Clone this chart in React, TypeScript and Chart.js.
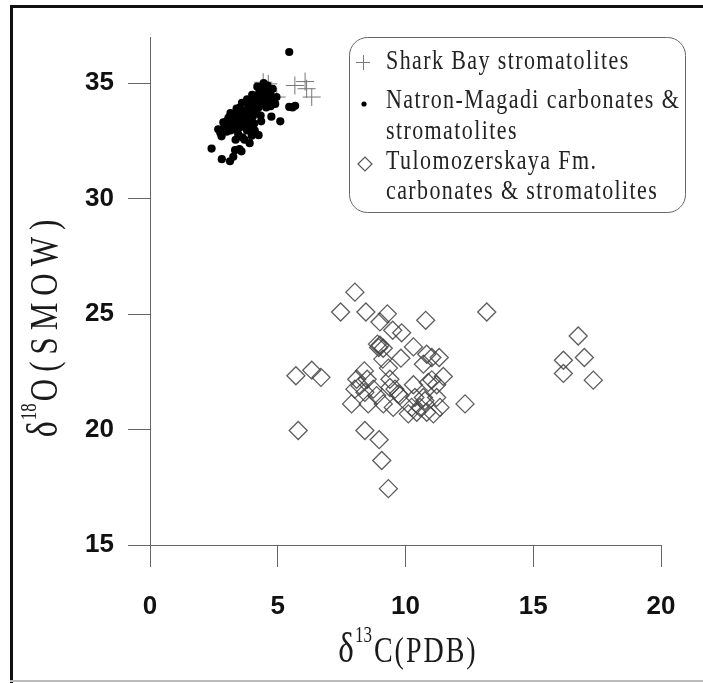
import React, { useEffect, useRef } from "react";
import { Chart, registerables } from "chart.js";

Chart.register(...registerables);

const xTickValues = [0, 5, 10, 15, 20];
const yTickValues = [15, 20, 25, 30, 35];

const sharkBay: [number, number][] = [
  [4.43, 35.04], [4.63, 34.97], [4.96, 34.4], [5.67, 34.9], [6.07, 35.07], [6.13, 34.76], [6.33, 34.4],
];

const natronMagadi: [number, number][] = [
  [5.45, 36.35], [5.45, 33.97], [5.58, 33.95], [5.68, 34.02], [5.1, 33.35], [4.75, 33.55], [4.25, 32.75],
  [2.41, 32.17], [2.81, 31.71], [3.26, 31.81], [3.33, 32.1], [3.5, 32.14], [3.13, 31.62], [3.58, 32.05], [3.9, 32.4],
  [2.67, 33.0], [2.75, 32.85], [2.87, 33.3], [2.9, 33.05], [3.0, 32.9], [3.07, 33.5], [3.1, 33.2], [3.15, 32.95],
  [3.2, 33.1], [3.26, 33.35], [3.3, 33.0], [3.35, 33.6], [3.39, 33.9], [3.42, 33.2], [3.45, 32.8], [3.5, 33.45],
  [3.52, 33.95], [3.55, 33.1], [3.6, 33.3], [3.62, 32.65], [3.65, 33.6], [3.7, 33.2], [3.75, 33.8], [3.78, 33.5],
  [3.8, 32.95], [3.85, 34.0], [3.9, 33.7], [3.92, 33.3], [3.95, 34.1], [4.0, 33.9], [4.02, 33.55], [4.05, 34.3],
  [4.08, 33.25], [4.1, 34.0], [4.15, 34.45], [4.17, 33.7], [4.2, 34.2], [4.25, 33.95], [4.28, 34.6], [4.3, 34.35],
  [4.33, 33.6], [4.38, 34.1], [4.4, 34.8], [4.42, 34.5], [4.45, 34.25], [4.5, 34.65], [4.55, 33.95], [4.57, 34.4],
  [4.6, 34.9], [4.63, 34.7], [4.65, 34.2], [4.7, 34.55], [4.72, 34.0], [4.8, 34.75], [4.83, 34.35], [4.9, 34.1],
  [4.95, 34.4], [3.98, 32.72], [3.7, 32.55], [3.35, 32.55], [3.15, 33.7], [3.0, 33.35], [2.8, 32.7], [3.45, 33.75],
  [3.88, 33.05], [4.1, 32.95], [4.35, 33.35], [3.6, 34.15], [3.8, 34.3], [4.0, 34.5], [4.2, 34.85], [4.45, 35.0],
  [3.25, 33.65],
];

const tulomozerskaya: [number, number][] = [
  [8.02, 25.95], [7.46, 25.09], [8.45, 25.09], [9.29, 25.01], [9.0, 24.66], [9.5, 24.3], [9.85, 24.19],
  [10.79, 24.73], [8.9, 23.7], [8.95, 23.55], [9.0, 23.65], [9.13, 23.52], [10.31, 23.58], [9.82, 23.09],
  [10.83, 23.26], [11.03, 23.12], [10.7, 22.83], [11.32, 23.12], [9.33, 22.66], [9.11, 23.05],
  [5.71, 22.33], [6.33, 22.57], [6.69, 22.26], [8.39, 22.54], [11.48, 22.3], [10.89, 22.04], [11.22, 21.94],
  [10.31, 21.94], [9.39, 22.18], [9.59, 21.75], [8.09, 22.18], [8.5, 22.18], [8.22, 21.9], [8.02, 21.75],
  [8.41, 21.61], [8.74, 21.75], [8.87, 21.47], [7.89, 21.11], [8.54, 21.11], [9.13, 21.11], [9.52, 20.96],
  [9.72, 21.54], [10.37, 21.39], [10.7, 21.39], [10.24, 20.96], [10.44, 20.75], [10.57, 20.96], [10.83, 20.75],
  [11.09, 20.68], [11.35, 20.96], [10.11, 20.68], [12.33, 21.11], [11.03, 22.15], [9.39, 21.82], [9.78, 21.47],
  [10.76, 21.25], [11.22, 21.39], [5.8, 19.96], [8.41, 19.96], [8.97, 19.56], [9.07, 18.66], [9.33, 17.44],
  [13.18, 25.09], [16.76, 24.05], [16.18, 23.0], [17.0, 23.12], [16.18, 22.43], [17.35, 22.14],
];

const legendLines = [
  "Shark Bay stromatolites",
  "Natron-Magadi carbonates &",
  "stromatolites",
  "Tulomozerskaya Fm.",
  "carbonates & stromatolites",
];

type Part = { text: string; size: number; rise?: number; ls?: number; gap?: number };

function drawParts(ctx: CanvasRenderingContext2D, parts: Part[], cx: number, cy: number, rot: number, stretch: number) {
  ctx.save();
  ctx.translate(cx, cy);
  ctx.rotate(rot);
  ctx.scale(1, stretch);
  ctx.fillStyle = "#1a1a1a";
  ctx.textBaseline = "alphabetic";
  ctx.textAlign = "left";
  let total = 0;
  const widths = parts.map((p) => {
    ctx.font = `${p.size}px 'Liberation Serif'`;
    (ctx as any).letterSpacing = `${p.ls || 0}px`;
    const w = ctx.measureText(p.text).width;
    total += w + (p.gap || 0);
    return w;
  });
  let x = -total / 2;
  parts.forEach((p, i) => {
    ctx.font = `${p.size}px 'Liberation Serif'`;
    (ctx as any).letterSpacing = `${p.ls || 0}px`;
    ctx.fillText(p.text, x, -(p.rise || 0) / stretch);
    x += widths[i] + (p.gap || 0);
  });
  ctx.restore();
}

const decor = {
  id: "decor",
  afterDraw(chart: any) {
    const ctx: CanvasRenderingContext2D = chart.ctx;
    ctx.save();
    // frame
    ctx.fillStyle = "#111";
    ctx.fillRect(10, 5, 3, 678);
    ctx.fillRect(10, 5, 693, 3);
    ctx.fillStyle = "#bbb";
    ctx.fillRect(10, 680, 693, 2);

    // legend box
    ctx.strokeStyle = "#666";
    ctx.lineWidth = 1;
    ctx.beginPath();
    (ctx as any).roundRect(349.5, 37.5, 336, 175, 18);
    ctx.stroke();

    // markers
    ctx.strokeStyle = "#777";
    ctx.beginPath();
    ctx.moveTo(356, 62.5); ctx.lineTo(370, 62.5);
    ctx.moveTo(363.5, 55); ctx.lineTo(363.5, 70);
    ctx.stroke();
    ctx.fillStyle = "#000";
    ctx.beginPath();
    ctx.arc(364, 104, 2.6, 0, Math.PI * 2);
    ctx.fill();
    ctx.strokeStyle = "#555";
    ctx.lineWidth = 1.2;
    ctx.beginPath();
    ctx.moveTo(358, 164); ctx.lineTo(365, 157); ctx.lineTo(372, 164); ctx.lineTo(365, 171); ctx.closePath();
    ctx.stroke();

    // legend text
    const baselines = [69, 108, 139, 169, 199];
    ctx.fillStyle = "#222";
    ctx.font = "22px 'Liberation Serif'";
    (ctx as any).letterSpacing = "1.4px";
    ctx.textAlign = "left";
    ctx.textBaseline = "alphabetic";
    legendLines.forEach((t, i) => {
      ctx.save();
      ctx.translate(386, baselines[i]);
      ctx.scale(1, 1.2);
      ctx.fillText(t, 0, 0);
      ctx.restore();
    });
    (ctx as any).letterSpacing = "0px";
    ctx.restore();

    // axis titles
    drawParts(ctx, [
      { text: "δ", size: 33, gap: 1 },
      { text: "13", size: 17, rise: 20, gap: 2 },
      { text: "C(PDB)", size: 28, ls: 2 },
    ], 408, 662, 0, 1.3);
    drawParts(ctx, [
      { text: "δ", size: 34, gap: 1 },
      { text: "18", size: 17, rise: 21, gap: 2 },
      { text: "O(SMOW)", size: 31, ls: 7 },
    ], 57, 325, -Math.PI / 2, 1.3);
  },
};

export default function App() {
  const ref = useRef<HTMLCanvasElement>(null);
  useEffect(() => {
    document.body.style.margin = "0";
    const canvas = ref.current!;
    const tickFont = { family: "'Liberation Sans', Arial, sans-serif", weight: "bold" as const, size: 26 };
    const chart = new Chart(canvas, {
      type: "scatter",
      data: {
        datasets: [
          {
            label: "Tulomozerskaya Fm. carbonates & stromatolites",
            data: tulomozerskaya.map(([x, y]) => ({ x, y })),
            pointStyle: "rectRot",
            pointRadius: 9,
            borderColor: "rgba(65,65,65,0.85)",
            backgroundColor: "rgba(0,0,0,0)",
            borderWidth: 1.3,
          },
          {
            label: "Natron-Magadi carbonates & stromatolites",
            data: natronMagadi.map(([x, y]) => ({ x, y })),
            pointStyle: "circle",
            pointRadius: 4.1,
            backgroundColor: "#000",
            borderColor: "#000",
            borderWidth: 0,
          },
          {
            label: "Shark Bay stromatolites",
            data: sharkBay.map(([x, y]) => ({ x, y })),
            pointStyle: "cross",
            pointRadius: 9,
            borderColor: "#777",
            backgroundColor: "#777",
            borderWidth: 1,
          },
        ],
      },
      options: {
        responsive: false,
        animation: false,
        layout: { padding: { left: 0, right: 42, top: 37, bottom: 0 } },
        plugins: { legend: { display: false }, tooltip: { enabled: false } },
        scales: {
          x: {
            type: "linear",
            min: 0,
            max: 20,
            afterBuildTicks: (s: any) => { s.ticks = xTickValues.map((v) => ({ value: v })); },
            afterFit: (s: any) => { s.height = 138; },
            grid: { drawOnChartArea: false, drawTicks: true, tickLength: 22, color: "#666", lineWidth: 1 },
            border: { display: true, color: "#666", width: 1 },
            ticks: { padding: 24, font: tickFont, color: "#111", maxRotation: 0 },
          },
          y: {
            type: "linear",
            min: 15,
            max: 37,
            afterBuildTicks: (s: any) => { s.ticks = yTickValues.map((v) => ({ value: v })); },
            afterFit: (s: any) => { s.width = 150; },
            grid: { drawOnChartArea: false, drawTicks: true, tickLength: 22, color: "#666", lineWidth: 1 },
            border: { display: true, color: "#666", width: 1 },
            ticks: { padding: 14, font: tickFont, color: "#111" },
          },
        },
      },
      plugins: [decor],
    });
    return () => chart.destroy();
  }, []);
  return (
    <div style={{ position: "relative", width: 703, height: 683, background: "#fff" }}>
      <canvas ref={ref} width={703} height={683} style={{ display: "block", width: 703, height: 683 }} />
    </div>
  );
}
